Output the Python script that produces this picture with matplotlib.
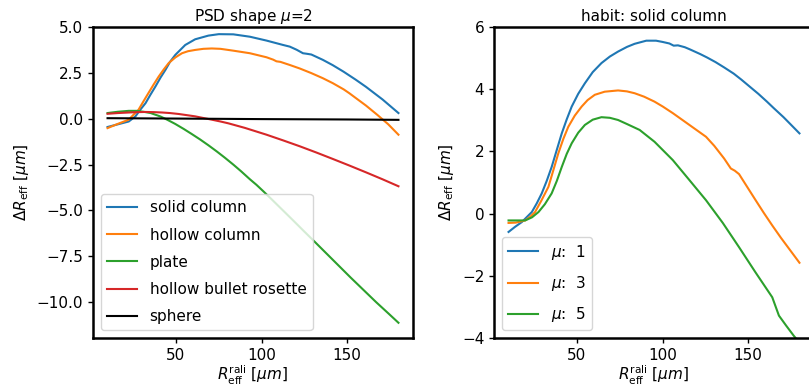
import numpy as np
import matplotlib
matplotlib.use("Agg")
import matplotlib.pyplot as plt

plt.rcParams['font.family'] = ['DejaVu Sans']
plt.rcParams['font.size'] = 11

# ---------------- left panel: PSD shape mu=2 ----------------
solid_x = [10, 16.6, 22.4, 26.3, 29.2, 32.2, 35, 38, 41, 43.8, 46.5, 49.6, 55.4, 61.2, 68.9, 75,
           83.5, 93.2, 102.9, 112.6, 116.5, 120.5, 124.2, 126.5, 129.1, 135.8, 141.6, 148, 155,
           161, 170.7, 180]
solid_y = [-0.45, -0.29, -0.15, 0.13, 0.5, 0.85, 1.3, 1.76, 2.25, 2.66, 3.1, 3.48, 4.02, 4.33,
           4.53, 4.61, 4.60, 4.47, 4.26, 4.02, 3.93, 3.76, 3.57, 3.54, 3.50, 3.21, 2.92, 2.56,
           2.13, 1.74, 1.05, 0.31]

hollow_x = [10, 16, 22.4, 25, 28.1, 31, 33.9, 36.9, 39.9, 42.8, 45.7, 49.6, 53.5, 57, 61.2, 66,
            70.9, 76, 83.5, 93.2, 102.9, 106.8, 108.7, 111, 116.5, 122.3, 129, 135.8, 141.6,
            148, 151.3, 155.2, 161, 167.8, 174, 180]
hollow_y = [-0.51, -0.28, -0.05, 0.2, 0.49, 0.95, 1.40, 1.86, 2.30, 2.68, 3.03, 3.34, 3.57, 3.68,
            3.75, 3.81, 3.83, 3.81, 3.71, 3.57, 3.35, 3.22, 3.13, 3.10, 2.93, 2.74, 2.49, 2.21,
            1.94, 1.60, 1.39, 1.12, 0.72, 0.20, -0.30, -0.87]

plate_x = [10, 16, 22.4, 27, 31, 35.2, 41, 44.8, 49.5, 54.4, 59, 64.1, 69, 73.8, 78.5, 83.5, 88,
           93.2, 97, 101, 106, 112, 118, 125, 131, 138, 145, 152, 160, 167, 174, 180]
plate_y = [0.31, 0.38, 0.43, 0.43, 0.38, 0.31, 0.12, -0.05, -0.28, -0.55, -0.82, -1.13, -1.45,
           -1.78, -2.12, -2.50, -2.86, -3.30, -3.60, -3.95, -4.40, -4.95, -5.50, -6.15, -6.70,
           -7.35, -8.00, -8.65, -9.37, -10.00, -10.60, -11.12]

rosette_x = [10, 16, 22.4, 27, 32.2, 37, 41.9, 46.5, 51.5, 56, 61.2, 66, 70.9, 76, 80.6, 90.3,
             102.9, 112.6, 122.3, 132, 141.6, 151.3, 161, 170.7, 180]
rosette_y = [0.27, 0.31, 0.34, 0.36, 0.37, 0.36, 0.34, 0.31, 0.26, 0.20, 0.13, 0.04, -0.05,
             -0.15, -0.25, -0.50, -0.87, -1.18, -1.50, -1.84, -2.19, -2.55, -2.92, -3.30, -3.68]

sphere_x = [10, 50, 100, 150, 180]
sphere_y = [0.03, 0.01, -0.02, -0.04, -0.06]

habit_labels = ['solid column', 'hollow column', 'plate', 'hollow bullet rosette', 'sphere']
habit_colors = ['#1f77b4', '#ff7f0e', '#2ca02c', '#d62728', 'black']

# ---------------- right panel: solid column, varying mu ----------------
mu1_x = [10, 13.7, 17.8, 20.7, 23.6, 26.5, 29.4, 32.3, 35.2, 38.2, 41.1, 44.0, 46.9, 50.7, 54.6,
         59.2, 64.3, 69.2, 74.0, 79.2, 83.7, 90.5, 96.2, 100, 104, 106.5, 109, 113, 116, 122,
         126, 131, 136, 141.6, 146, 151, 156, 161, 165, 170.7, 175, 180]
mu1_y = [-0.59, -0.43, -0.27, -0.11, 0.05, 0.33, 0.65, 1.05, 1.50, 2.05, 2.58, 3.03, 3.44, 3.85,
         4.19, 4.55, 4.84, 5.05, 5.21, 5.36, 5.46, 5.56, 5.56, 5.52, 5.47, 5.40, 5.41, 5.35,
         5.28, 5.13, 5.02, 4.87, 4.70, 4.50, 4.31, 4.08, 3.85, 3.60, 3.39, 3.10, 2.86, 2.58]

mu3_x = [10, 14.2, 19.7, 22.7, 25.5, 29.2, 33.3, 36.2, 39.1, 42.0, 44.9, 48.7, 52.7, 56.2, 60.4,
         66.2, 74.0, 79.2, 83.7, 89.2, 95.3, 100.2, 106.0, 115.2, 125.4, 130.2, 136.0, 139.9,
         142.2, 144.7, 149.2, 154.4, 159.2, 164.1, 169.2, 174.6, 180]
mu3_y = [-0.30, -0.29, -0.22, -0.10, 0.05, 0.42, 0.86, 1.40, 1.94, 2.40, 2.79, 3.15, 3.44, 3.65,
         3.82, 3.92, 3.96, 3.93, 3.87, 3.76, 3.60, 3.44, 3.23, 2.87, 2.47, 2.18, 1.77, 1.45,
         1.38, 1.27, 0.88, 0.43, 0.02, -0.38, -0.78, -1.18, -1.58]

mu5_x = [10, 14.2, 19.7, 23.7, 27.5, 31.2, 35.2, 38.2, 41.1, 44.0, 46.9, 50.7, 54.6, 59.2, 64.3,
         69.2, 74.0, 79.2, 86.6, 95.3, 106.0, 115.2, 125.4, 135.2, 144.7, 154.2, 164.1, 168.0,
         172.2, 176.7, 180]
mu5_y = [-0.22, -0.22, -0.22, -0.12, 0.05, 0.30, 0.65, 1.05, 1.50, 1.92, 2.26, 2.60, 2.85, 3.02,
         3.10, 3.08, 3.01, 2.88, 2.69, 2.31, 1.72, 1.11, 0.43, -0.30, -1.08, -1.88, -2.69,
         -3.28, -3.60, -3.93, -4.15]

mu_labels = [r'$\mu$:  1', r'$\mu$:  3', r'$\mu$:  5']
mu_colors = ['#1f77b4', '#ff7f0e', '#2ca02c']

# ---------------- figure ----------------
W, H = 809, 390
fig = plt.figure(figsize=(W / 100, H / 100), dpi=100)
ax1 = fig.add_axes([93 / W, 52 / H, 320 / W, 311 / H])
ax2 = fig.add_axes([494 / W, 52 / H, 320 / W, 311 / H])

left_series = [(solid_x, solid_y), (hollow_x, hollow_y), (plate_x, plate_y),
               (rosette_x, rosette_y), (sphere_x, sphere_y)]
for (x, y), lab, c in zip(left_series, habit_labels, habit_colors):
    ax1.plot(x, y, color=c, lw=1.5, label=lab)

right_series = [(mu1_x, mu1_y), (mu3_x, mu3_y), (mu5_x, mu5_y)]
for (x, y), lab, c in zip(right_series, mu_labels, mu_colors):
    ax2.plot(x, y, color=c, lw=1.5, label=lab)

ax1.set_xlim(1.5, 188.5)
ax1.set_ylim(-11.95, 5.0)
ax1.set_yticks([-10.0, -7.5, -5.0, -2.5, 0.0, 2.5, 5.0])
ax2.set_xlim(1.5, 188.5)
ax2.set_ylim(-4, 6)
ax2.set_yticks([-4, -2, 0, 2, 4, 6])

for ax in (ax1, ax2):
    ax.set_xticks([50, 100, 150])
    ax.set_xlabel(r'$R_\mathrm{eff}^\mathrm{rali}$ [$\mu m$]', labelpad=1)
    ax.set_ylabel(r'$\Delta R_\mathrm{eff}$ [$\mu m$]')
    for s in ax.spines.values():
        s.set_linewidth(1.8)
        s.set_color('black')
    ax.tick_params(width=1.0, length=3.5)

ax1.set_title(r'PSD shape $\mu$=2', fontsize=11, pad=4)
ax2.set_title('habit: solid column', fontsize=11, pad=4)

ax1.legend(loc='lower left', fontsize=11, handlelength=2.0, labelspacing=0.8)
ax2.legend(loc='lower left', fontsize=11, handlelength=2.0, labelspacing=0.8)

fig.savefig('out.png', dpi=100)
